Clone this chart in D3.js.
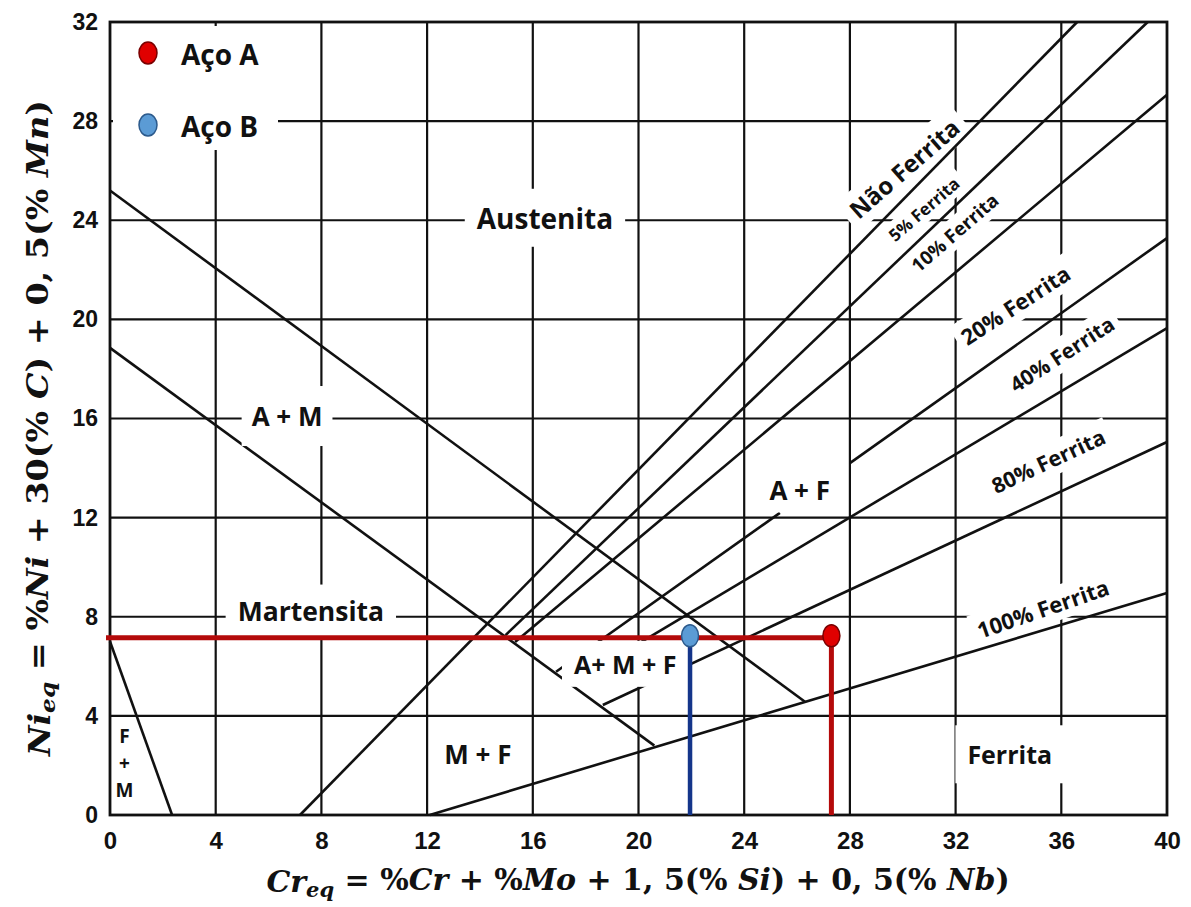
<!DOCTYPE html>
<html><head><meta charset="utf-8">
<script src="https://cdn.jsdelivr.net/npm/d3@7"></script>
<style>body{margin:0;background:#fff}</style>
</head><body>
<svg id="chart" width="1191" height="907"></svg>
<script>
// Schaeffler diagram: Cr equivalent vs Ni equivalent
const xTicks = [0, 4, 8, 12, 16, 20, 24, 28, 32, 36, 40];
const yTicks = [0, 4, 8, 12, 16, 20, 24, 28, 32];

// phase boundaries as [Cr_eq, Ni_eq] end points
const fmBoundary      = [[0, 7.0], [2.35, 0]];
const martensiteUpper = [[0, 25.2], [26.3, 4.57]];
const martensiteLower = [[0, 18.85], [20.6, 2.8]];
const ferrite0   = [[7.19, 0], [36.6, 32]];
const ferrite5   = [[14.97, 7.26], [39.27, 32]];
const ferrite10  = [[15.33, 6.98], [40, 29.06]];
const ferrite20a = [[16.88, 5.78], [25.35, 12.19]];
const ferrite20b = [[28.0, 14.2], [40, 23.28]];
const ferrite40  = [[17.48, 5.31], [40, 19.65]];
const ferrite80  = [[18.65, 4.44], [40, 15.05]];
const ferrite100 = [[12.1, 0], [40, 8.96]];
const boundaries = [fmBoundary, martensiteUpper, martensiteLower, ferrite0, ferrite5,
  ferrite10, ferrite20a, ferrite20b, ferrite40, ferrite80, ferrite100];

// steels
const steelNames = ["Aço A", "Aço B"];
const steelCr = [27.3, 21.95];
const steelNi = [7.15, 7.15];

const svg = d3.select("#chart");
const x = d3.scaleLinear().domain([0, 40]).range([110, 1167]);
const y = d3.scaleLinear().domain([0, 32]).range([815, 22]);
const line = d3.line().x(d => x(d[0])).y(d => y(d[1]));

const labelFont = "'Open Sans', 'Liberation Sans', sans-serif";

// grid
const grid = svg.append("g").attr("stroke", "#111").attr("stroke-width", 2.2);
grid.selectAll(".gx").data(xTicks.slice(1, -1)).join("line")
  .attr("x1", d => x(d)).attr("x2", d => x(d)).attr("y1", y(0)).attr("y2", y(32));
grid.selectAll(".gy").data(yTicks.slice(1, -1)).join("line")
  .attr("y1", d => y(d)).attr("y2", d => y(d)).attr("x1", x(0)).attr("x2", x(40));

// axes (ticks as labels only)
const xAxis = d3.axisBottom(x).tickValues(xTicks).tickSize(0).tickPadding(17);
const yAxis = d3.axisLeft(y).tickValues(yTicks).tickSize(0).tickPadding(12);
const gx = svg.append("g").attr("transform", `translate(0,${y(0)})`).call(xAxis);
const gy = svg.append("g").attr("transform", `translate(${x(0)},0)`).call(yAxis);
[gx, gy].forEach(g => {
  g.select(".domain").remove();
  g.selectAll("text").attr("font-family", "'Liberation Sans', Arial, sans-serif")
    .attr("font-weight", "bold").attr("font-size", 23).attr("fill", "#111");
});
gx.selectAll("text").attr("font-size", 24);

// region labels
const regionLabels = [
  {t: "Austenita", cx: 16.46, cy: 24.1, s: 28, r: 0, padX: 12, padY: 10},
  {t: "A + M", cx: 6.7, cy: 16.1, s: 26, r: 0, padX: 10, padY: 12},
  {t: "Martensita", cx: 7.6, cy: 8.25, s: 26.5, r: 0, padX: 12, padY: 8},
  {t: "A + F", cx: 26.1, cy: 13.1, s: 26, r: 0, padX: 6, padY: 4},
  {t: "A+ M + F", cx: 19.5, cy: 6.1, s: 25, r: 0, padX: 12, padY: 6},
  {t: "M + F", cx: 13.92, cy: 2.45, s: 26, r: 0, padX: 10, padY: 12},
  {t: "Ferrita", cx: 34.05, cy: 2.45, s: 25, r: 0, padX: 12, padY: 12},
  {t: "Não Ferrita", cx: 30.05, cy: 26.1, s: 24, r: -41, padX: 8, padY: 2},
  {t: "5% Ferrita", cx: 30.8, cy: 24.45, s: 17, r: -41, padX: 6, padY: 1},
  {t: "10% Ferrita", cx: 31.97, cy: 23.5, s: 19, r: -41, padX: 6, padY: 1},
  {t: "20% Ferrita", cx: 34.25, cy: 20.6, s: 22, r: -33, padX: 6, padY: 2},
  {t: "40% Ferrita", cx: 36.02, cy: 18.6, s: 21, r: -33, padX: 6, padY: 2},
  {t: "80% Ferrita", cx: 35.5, cy: 14.3, s: 21.5, r: -25, padX: 6, padY: 2},
  {t: "100% Ferrita", cx: 35.3, cy: 8.35, s: 22, r: -19, padX: 6, padY: 2}
];

const bgLayer = svg.append("g");
const linesLayer = svg.append("g");
const bgTop = svg.append("g");
const textLayer = svg.append("g");

linesLayer.selectAll("path").data(boundaries).join("path")
  .attr("d", line).attr("fill", "none").attr("stroke", "#111")
  .attr("stroke-width", 2.6).attr("stroke-linecap", "butt");

regionLabels.forEach(L => {
  const g = textLayer.append("g")
    .attr("transform", `translate(${x(L.cx)},${y(L.cy)}) rotate(${L.r})`);
  const t = g.append("text").text(L.t)
    .attr("text-anchor", "middle").attr("dominant-baseline", "central")
    .attr("font-family", labelFont).attr("font-weight", "bold")
    .attr("font-size", L.s).attr("fill", "#111");
  const b = t.node().getBBox();
  const layer = L.r === 0 ? bgTop : bgLayer;
  layer.append("rect")
    .attr("transform", `translate(${x(L.cx)},${y(L.cy)}) rotate(${L.r})`)
    .attr("x", b.x - L.padX).attr("y", b.y - L.padY)
    .attr("width", b.width + 2 * L.padX).attr("height", b.height + 2 * L.padY)
    .attr("fill", "#fff");
});

// stacked "F + M" label in the corner region
["F", "+", "M"].forEach((c, i) => {
  textLayer.append("text").attr("text-anchor", "middle")
    .attr("x", x(0.55)).attr("y", y(3.2 - i * 1.1) + 7)
    .attr("font-family", labelFont).attr("font-weight", "bold")
    .attr("font-size", 19).attr("fill", "#111").text(c);
});

// frame
svg.append("rect").attr("x", x(0)).attr("y", y(32))
  .attr("width", x(40) - x(0)).attr("height", y(0) - y(32))
  .attr("fill", "none").attr("stroke", "#111").attr("stroke-width", 2.8);

// steel A: horizontal guide from the Ni axis and vertical drop to the Cr axis
const marks = svg.append("g");
marks.append("line").attr("x1", x(0) - 4).attr("x2", x(steelCr[0]))
  .attr("y1", y(steelNi[0])).attr("y2", y(steelNi[0]))
  .attr("stroke", "#b40a0a").attr("stroke-width", 5);
marks.append("line").attr("x1", x(steelCr[0])).attr("x2", x(steelCr[0]))
  .attr("y1", y(steelNi[0])).attr("y2", y(0))
  .attr("stroke", "#b40a0a").attr("stroke-width", 5);
marks.append("line").attr("x1", x(steelCr[1])).attr("x2", x(steelCr[1]))
  .attr("y1", y(steelNi[1])).attr("y2", y(0))
  .attr("stroke", "#14358a").attr("stroke-width", 4.5);
const dotFill = ["#e00000", "#5b9bd5"];
const dotStroke = ["#7a0000", "#2c5a8c"];
marks.selectAll("ellipse").data(steelCr).join("ellipse")
  .attr("cx", d => x(d)).attr("cy", (d, i) => y(steelNi[i]) - 2)
  .attr("rx", 8.5).attr("ry", 11)
  .attr("fill", (d, i) => dotFill[i]).attr("stroke", (d, i) => dotStroke[i]).attr("stroke-width", 1.5);

// legend
const legend = svg.append("g");
legend.append("rect").attr("x", 113).attr("y", 26).attr("width", 165).attr("height", 124).attr("fill", "#fff");
steelNames.forEach((n, i) => {
  const cy = 53 + i * 72;
  legend.append("ellipse").attr("cx", 148).attr("cy", cy).attr("rx", 9).attr("ry", 11)
    .attr("fill", dotFill[i]).attr("stroke", dotStroke[i]).attr("stroke-width", 1.5);
  legend.append("text").attr("x", 181).attr("y", cy + 1).attr("dominant-baseline", "central")
    .attr("font-family", labelFont).attr("font-weight", "bold").attr("font-size", 28)
    .attr("fill", "#111").text(n);
});

// axis titles
const serif = "'DejaVu Serif', 'Liberation Serif', serif";
function formula(sel, parts) {
  parts.forEach(p => {
    const ts = sel.append("tspan").text(p.t);
    if (p.i) ts.attr("font-style", "italic");
    if (p.sub) ts.attr("font-size", "0.7em").attr("dy", "0.25em");
    if (p.up) ts.attr("dy", "-0.25em");
  });
}
const xt = svg.append("text").attr("x", 638).attr("y", 892).attr("text-anchor", "middle")
  .attr("font-family", serif).attr("font-weight", "bold").attr("font-size", 30).attr("fill", "#111");
formula(xt, [
  {t: "Cr", i: true}, {t: "eq", i: true, sub: true}, {t: " = %", up: true}, {t: "Cr", i: true},
  {t: " + %"}, {t: "Mo", i: true}, {t: " + 1, 5(% "}, {t: "Si", i: true},
  {t: ") + 0, 5(% "}, {t: "Nb", i: true}, {t: ")"}
]);
const yt = svg.append("text").attr("transform", "translate(50,428) rotate(-90) scale(1.15,1)")
  .attr("text-anchor", "middle")
  .attr("font-family", serif).attr("font-weight", "bold").attr("font-size", 29).attr("fill", "#111");
formula(yt, [
  {t: "Ni", i: true}, {t: "eq", i: true, sub: true}, {t: " = %", up: true}, {t: "Ni", i: true},
  {t: " + 30(% "}, {t: "C", i: true}, {t: ") + 0, 5(% "}, {t: "Mn", i: true}, {t: ")"}
]);
</script>
</body></html>
